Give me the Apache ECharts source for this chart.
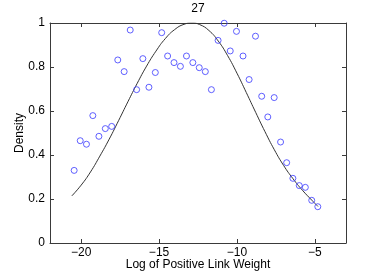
<!DOCTYPE html>
<html>
<head>
<meta charset="utf-8">
<script src="https://cdn.jsdelivr.net/npm/echarts@6/dist/echarts.min.js"></script>
<style>html,body{margin:0;padding:0;background:#fff}#c{width:382px;height:273px}</style>
</head>
<body>
<div id="c"></div>
<script>
var titleText = "27";
var xAxisName = "Log of Positive Link Weight";
var yAxisName = "Density";
var xTicks = [-20, -15, -10, -5];
var yTicks = [0, 0.2, 0.4, 0.6, 0.8, 1];

var pointX = [-20.45, -20.06, -19.66, -19.25, -18.86, -18.45, -18.04, -17.65, -17.24, -16.85,
              -16.44, -16.04, -15.65, -15.24, -14.83, -14.45, -14.04, -13.63, -13.24, -12.83,
              -12.42, -12.03, -11.64, -11.21, -10.82, -10.43, -10.03, -9.61, -9.22, -8.81,
              -8.41, -8.02, -7.61, -7.20, -6.81, -6.41, -6.00, -5.61, -5.20, -4.81];
var pointY = [0.330, 0.465, 0.449, 0.579, 0.485, 0.520, 0.530, 0.832, 0.779, 0.968,
              0.697, 0.838, 0.708, 0.775, 0.956, 0.850, 0.820, 0.803, 0.850, 0.820,
              0.797, 0.779, 0.697, 0.921, 0.999, 0.873, 0.962, 0.850, 0.743, 0.940,
              0.667, 0.573, 0.661, 0.459, 0.365, 0.294, 0.261, 0.253, 0.194, 0.165];

var curveX = [-20.6, -20.0, -19.4, -18.8, -18.2, -17.6, -17.0, -16.4, -15.8, -15.2,
              -14.6, -14.0, -13.4, -12.9, -12.4, -11.8, -11.2, -10.6, -10.0, -9.4,
              -8.8, -8.2, -7.6, -7.0, -6.4, -5.8, -5.2, -4.8];
var curveY = [0.214, 0.263, 0.323, 0.395, 0.472, 0.556, 0.642, 0.726, 0.804, 0.872,
              0.929, 0.970, 0.994, 1.000, 0.993, 0.966, 0.918, 0.852, 0.772, 0.684,
              0.594, 0.506, 0.424, 0.352, 0.292, 0.240, 0.195, 0.166];

function zip(a, b) { return a.map(function (v, i) { return [v, b[i]]; }); }
function minus(v) { return String(v).replace('-', '\u2212'); }

var font = 'Liberation Sans, Arial, sans-serif';
var axisColor = '#3a3a3a';
var chart = echarts.init(document.getElementById('c'), null, {renderer: 'canvas'});
chart.setOption({
  animation: false,
  backgroundColor: '#fff',
  title: {text: titleText, left: 198, textAlign: 'center', top: 3, padding: 0,
          textStyle: {fontFamily: font, fontSize: 12, fontWeight: 'normal', color: '#000'}},
  grid: {left: 50, right: 36, top: 23, bottom: 30, outerBoundsMode: 'none', containLabel: false},
  xAxis: [{
    type: 'value', min: -22, max: -3, position: 'bottom',
    name: xAxisName, nameLocation: 'middle', nameGap: 16, nameMoveOverlap: false,
    nameTextStyle: {fontFamily: font, fontSize: 12, color: '#000'},
    axisLine: {show: true, lineStyle: {color: axisColor, width: 1}},
    axisTick: {show: true, inside: true, length: 4, customValues: xTicks, lineStyle: {color: axisColor}},
    axisLabel: {customValues: xTicks, margin: 4, fontFamily: font, fontSize: 12, color: '#000', formatter: minus},
    splitLine: {show: false}
  }, {
    type: 'value', min: -22, max: -3, position: 'top',
    axisLine: {show: true, onZero: false, lineStyle: {color: axisColor, width: 1}},
    axisTick: {show: true, inside: true, length: 4, customValues: xTicks, lineStyle: {color: axisColor}},
    axisLabel: {show: false}, splitLine: {show: false}
  }],
  yAxis: [{
    type: 'value', min: 0, max: 1, interval: 0.2, position: 'left',
    name: yAxisName, nameLocation: 'middle', nameGap: 24, nameRotate: 90, nameMoveOverlap: false,
    nameTextStyle: {fontFamily: font, fontSize: 12, color: '#000'},
    axisLine: {show: true, lineStyle: {color: axisColor, width: 1}},
    axisTick: {show: true, inside: true, length: 4, lineStyle: {color: axisColor}},
    axisLabel: {margin: 5, fontFamily: font, fontSize: 12, color: '#000',
                customValues: yTicks},
    splitLine: {show: false}
  }, {
    type: 'value', min: 0, max: 1, interval: 0.2, position: 'right',
    axisLine: {show: true, onZero: false, lineStyle: {color: axisColor, width: 1}},
    axisTick: {show: true, inside: true, length: 4, lineStyle: {color: axisColor}},
    axisLabel: {show: false}, splitLine: {show: false}
  }],
  series: [{
    type: 'line', data: zip(curveX, curveY), smooth: true, showSymbol: false, symbol: 'none',
    lineStyle: {color: '#333', width: 1}, z: 2
  }, {
    type: 'scatter', data: zip(pointX, pointY), symbol: 'circle', symbolSize: 6,
    itemStyle: {color: 'rgba(0,0,0,0)', borderColor: '#3a3aff', borderWidth: 1}, z: 3
  }]
});
</script>
</body>
</html>
